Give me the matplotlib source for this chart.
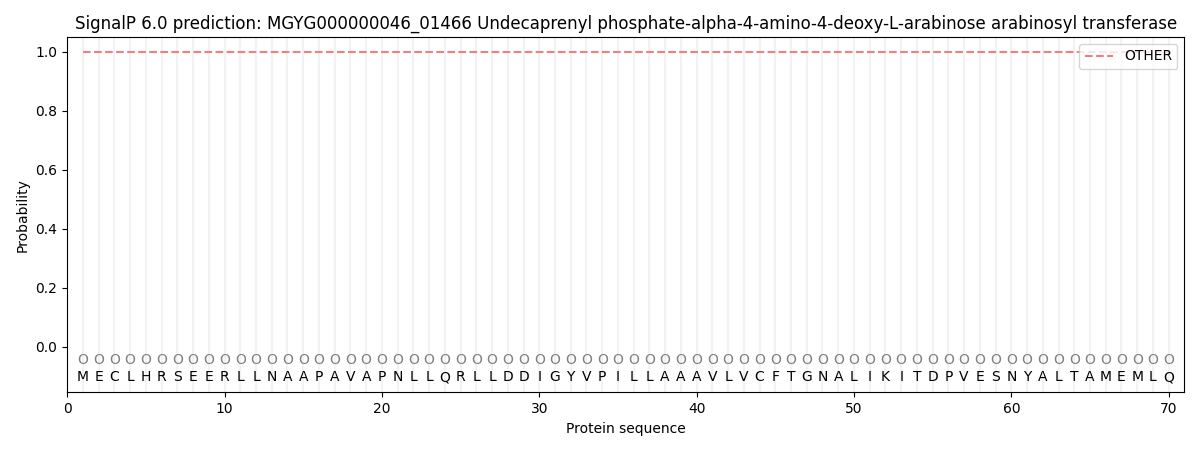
import numpy as np
import matplotlib
matplotlib.use("Agg")
import matplotlib.pyplot as plt

sequence = list("MECLHRSEERLLNAAPAVAPNLLQRLLDDIGYVPILLAAAVLVCFTGNALIKITDPVESNYALTAMEMLQ")
labels = ["O"] * len(sequence)
other_prob = [1.0] * len(sequence)
positions = np.arange(1, len(sequence) + 1)

fig, ax = plt.subplots(figsize=(12, 4.5), dpi=100)

for p in positions:
    ax.axvline(p, color="#f2f2f2", linewidth=1.5, zorder=0)

ax.plot(positions, other_prob, linestyle="--", color="#f08080", linewidth=1.5, label="OTHER")

for p, lab, aa in zip(positions, labels, sequence):
    ax.text(p, -0.045, lab, ha="center", va="center", color="grey", fontsize=10)
    ax.text(p, -0.103, aa, ha="center", va="center", color="black", fontsize=10)

ax.set_xlim(0, 71)
ax.set_ylim(-0.155, 1.05)
ax.set_xlabel("Protein sequence")
ax.set_ylabel("Probability")
ax.set_title("SignalP 6.0 prediction: MGYG000000046_01466 Undecaprenyl phosphate-alpha-4-amino-4-deoxy-L-arabinose arabinosyl transferase")
ax.legend(loc="upper right")

plt.subplots_adjust(left=0.056, right=0.987, top=0.918, bottom=0.128)
plt.savefig("out.png")
